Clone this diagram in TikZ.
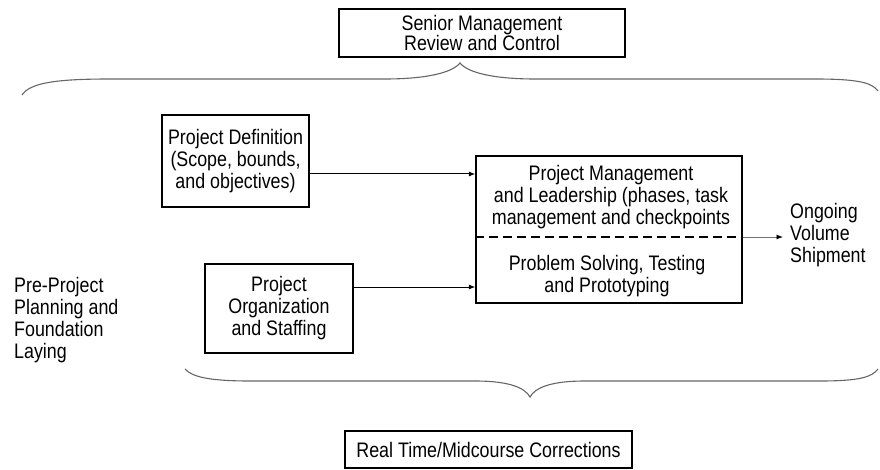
\documentclass[tikz,border=0pt]{standalone}
\usepackage{fontspec}
\setmainfont{Liberation Sans}[FakeStretch=0.85]
\usetikzlibrary{arrows.meta}
\begin{document}
\begin{tikzpicture}[x=1pt,y=-1pt,
  every node/.style={font=\fontsize{21}{22}\selectfont, inner sep=0pt, align=center},
  box/.style={draw, line width=1.2pt},
  arr/.style={-{Latex[length=6.5pt,width=5pt]}, line width=1pt},
  brace/.style={draw=black!60, line width=1.1pt}]
\useasboundingbox (0,0) rectangle (880,470);

% boxes
\node[box, minimum width=286, minimum height=48, font=\fontsize{21}{20}\selectfont]
  (senior) at (482,33) {Senior Management\\Review and Control};
\node[box, minimum width=147, minimum height=92]
  (def) at (235.5,161) {Project Definition\\(Scope, bounds,\\and objectives)};
\node[box, minimum width=148, minimum height=89]
  (org) at (279,308.5) {Project\\Organization\\and Staffing};
\node[box, minimum width=266, minimum height=147] (pm) at (609,229.5) {};
\node (pmtop) at (611,197.5) {Project Management\\and Leadership (phases, task\\management and checkpoints};
\node (pmbot) at (607,276) {Problem Solving, Testing\\and Prototyping};
\node[box, minimum width=287, minimum height=37]
  (rt) at (488.5,449.5) {Real Time/Midcourse Corrections};

% free labels
\node[align=left, anchor=west] (ship) at (790,235) {Ongoing\\Volume\\Shipment};
\node[align=left, anchor=west] (pre) at (14,320) {Pre-Project\\Planning and\\Foundation\\Laying};

% connectors
\draw[arr] ([yshift=-13pt]def.east) coordinate (d1) -- (d1 -| pm.west);
\draw[arr] ([yshift=21.5pt]org.east) coordinate (o1) -- (o1 -| pm.west);
\draw[line width=1.2pt, dash pattern=on 9pt off 5pt]
  ([yshift=-7.5pt]pm.west) coordinate (s1) -- (s1 -| pm.east) coordinate (s2);
\coordinate (shipin) at (783,237);
\draw[-{Latex[length=6.5pt,width=5pt,color=black]}, draw=black!55, line width=0.8pt] (s2) -- (shipin);

% upper brace (tip under the review box)
\draw[brace] (22,95) .. controls (30,83) and (55,79) .. (110,79) -- (385,79)
  .. controls (425,79) and (452,73) .. (460,63)
  .. controls (468,73) and (495,79) .. (535,79) -- (815,79)
  .. controls (860,79) and (872,83) .. (878,91);

% lower brace (tip above the corrections box)
\draw[brace] (185,369) .. controls (192,377) and (210,381) .. (250,381) -- (475,381)
  .. controls (510,381) and (525,388) .. (530,397)
  .. controls (535,388) and (550,381) .. (585,381) -- (820,381)
  .. controls (860,381) and (872,377) .. (878,369);
\end{tikzpicture}
\end{document}
